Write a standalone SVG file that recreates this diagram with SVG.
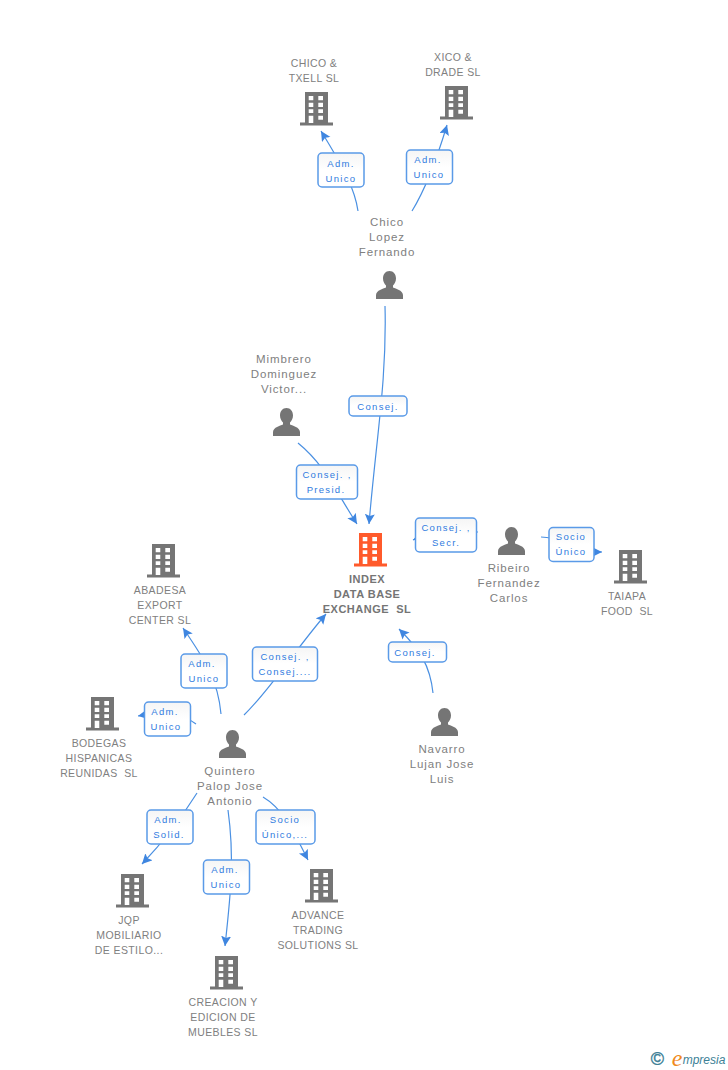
<svg xmlns="http://www.w3.org/2000/svg" width="728" height="1070" viewBox="0 0 728 1070">
<style>
text{font-family:"Liberation Sans",Arial,sans-serif;font-size:11.500px;fill:#808080;text-anchor:middle;letter-spacing:.9px;white-space:pre}
.c{font-size:10.500px;letter-spacing:.4px}
.b{font-weight:bold;font-size:11px;fill:#757575;letter-spacing:.5px}
.l{font-size:9.500px;fill:#2f7be0;letter-spacing:1.300px}
.e{fill:none;stroke:#4a90e2;stroke-width:1.200}
.box{fill:url(#g);stroke:#5a9ae8;stroke-width:1.500}
</style>
<defs>
<linearGradient id="g" x1="0" y1="0" x2="0" y2="1"><stop offset="0" stop-color="#f5f5f5"/><stop offset=".5" stop-color="#fff"/></linearGradient>
<marker id="a" markerUnits="userSpaceOnUse" markerWidth="12" markerHeight="12" refX="10" refY="5" orient="auto"><path d="M0 0L10 5L0 10L2 5Z" fill="#3f86e0"/></marker>
<symbol id="bld" width="33" height="34" viewBox="0 0 33 34"><path fill-rule="evenodd" d="M5 0H28V30.500H33V33.500H0V30.500H5ZM8.700 4V8.300H13.300V4ZM18.300 4V8.300H23V4ZM8.700 10.700V15H13.300V10.700ZM18.300 10.700V15H23V10.700ZM8.700 17.300V21H13.300V17.300ZM18.300 17.300V21H23V17.300ZM8.700 23.700V31H13.300V23.700ZM18.300 23.700V27.700H23V23.700Z"/></symbol>
<symbol id="per" width="27" height="28" viewBox="0 0 27 28"><path d="M13.500 0C17.500 0 20 3.200 20 7.500C20 10.500 18.500 13 17 14.500V16.500C20 18 26.500 19 27 24V28H0V24C.5 19 7 18 10 16.500V14.500C8.500 13 7 10.500 7 7.500C7 3.200 9.500 0 13.500 0Z" fill="#757575"/></symbol>
</defs>
<rect width="728" height="1070" fill="#fff"/>
<g id="connectors">
<path class="e" marker-end="url(#a)" d="M358 211C355 190 345 170 321 131"/>
<path class="e" marker-end="url(#a)" d="M412 211C425 190 435 165 447 125"/>
<path class="e" marker-end="url(#a)" d="M385 306C387 380 376 440 369 524"/>
<path class="e" marker-end="url(#a)" d="M298 443C325 465 335 490 357 524"/>
<path class="e" marker-end="url(#a)" d="M478 532C460 532 435 530 413 540"/>
<path class="e" marker-end="url(#a)" d="M541 537C560 537 585 552 602 552"/>
<path class="e" marker-end="url(#a)" d="M433 693C430 665 420 650 399 629"/>
<path class="e" marker-end="url(#a)" d="M244 715C270 690 295 650 326 614"/>
<path class="e" marker-end="url(#a)" d="M221 714C218 680 205 660 183 628"/>
<path class="e" marker-end="url(#a)" d="M196 724C180 712 160 712 138 716"/>
<path class="e" marker-end="url(#a)" d="M197 793C180 820 165 840 142 864"/>
<path class="e" marker-end="url(#a)" d="M228 810C235 860 230 900 225 946"/>
<path class="e" marker-end="url(#a)" d="M263 797C285 810 295 835 308 860"/>
</g>
<g id="edge-labels">
<rect class="box" x="318" y="153" width="46" height="34" rx="4"/><text class="l" x="341" y="167">Adm.</text><text class="l" x="341" y="182">Unico</text>
<rect class="box" x="406.500" y="150" width="46" height="34" rx="4"/><text class="l" x="428" y="163">Adm.</text><text class="l" x="429" y="178">Unico</text>
<rect class="box" x="349" y="396" width="58" height="20" rx="4"/><text class="l" x="378" y="410">Consej.</text>
<rect class="box" x="296.500" y="465" width="61" height="34" rx="4"/><text class="l" x="327" y="478">Consej. ,</text><text class="l" x="326" y="493">Presid.</text>
<rect class="box" x="415.500" y="518" width="61" height="34" rx="4"/><text class="l" x="446" y="531">Consej. ,</text><text class="l" x="446" y="546">Secr.</text>
<rect class="box" x="549" y="527.500" width="45" height="34" rx="4"/><text class="l" x="571" y="540">Socio</text><text class="l" x="571" y="555">Único</text>
<rect class="box" x="252.500" y="647" width="65" height="34" rx="4"/><text class="l" x="285" y="660">Consej. ,</text><text class="l" x="285" y="675">Consej....</text>
<rect class="box" x="388.500" y="642" width="58" height="20" rx="4"/><text class="l" x="415" y="656">Consej.</text>
<rect class="box" x="181" y="654" width="46" height="34" rx="4"/><text class="l" x="202" y="667">Adm.</text><text class="l" x="204" y="682">Unico</text>
<rect class="box" x="144.500" y="702" width="46" height="34" rx="4"/><text class="l" x="165" y="715">Adm.</text><text class="l" x="166" y="730">Unico</text>
<rect class="box" x="147" y="810" width="46" height="34" rx="4"/><text class="l" x="168" y="823">Adm.</text><text class="l" x="169" y="838">Solid.</text>
<rect class="box" x="203.500" y="860" width="46" height="34" rx="4"/><text class="l" x="225" y="873">Adm.</text><text class="l" x="226" y="888">Unico</text>
<rect class="box" x="256" y="810" width="59" height="34" rx="4"/><text class="l" x="285" y="823">Socio</text><text class="l" x="285" y="838">Único,...</text>
</g>
<g id="n-chico-txell"><text class="c" x="314" y="67">CHICO &amp;</text><text class="c" x="314" y="82">TXELL SL</text><use href="#bld" x="300" y="92" fill="#757575"/></g>
<g id="n-xico-drade"><text class="c" x="453" y="61">XICO &amp;</text><text class="c" x="453" y="76">DRADE SL</text><use href="#bld" x="440" y="86" fill="#757575"/></g>
<g id="n-chico-lopez"><text x="387" y="226">Chico</text><text x="387" y="241">Lopez</text><text x="387" y="256">Fernando</text><use href="#per" x="376" y="271"/></g>
<g id="n-mimbrero"><text x="284" y="363">Mimbrero</text><text x="284" y="378">Dominguez</text><text x="284" y="393">Victor...</text><use href="#per" x="273" y="408"/></g>
<g id="n-index"><use href="#bld" x="354" y="533" fill="#ff5a2b"/><text class="b" x="367" y="583">INDEX</text><text class="b" x="367" y="598">DATA BASE</text><text class="b" x="367" y="613">EXCHANGE  SL</text></g>
<g id="n-ribeiro"><use href="#per" x="498" y="527"/><text x="509" y="572">Ribeiro</text><text x="509" y="587">Fernandez</text><text x="509" y="602">Carlos</text></g>
<g id="n-taiapa"><use href="#bld" x="614" y="550" fill="#757575"/><text class="c" x="627" y="600">TAIAPA</text><text class="c" x="627" y="615">FOOD  SL</text></g>
<g id="n-abadesa"><use href="#bld" x="147" y="544" fill="#757575"/><text class="c" x="160" y="594">ABADESA</text><text class="c" x="160" y="609">EXPORT</text><text class="c" x="160" y="624">CENTER SL</text></g>
<g id="n-navarro"><use href="#per" x="431" y="708"/><text x="442" y="753">Navarro</text><text x="442" y="768">Lujan Jose</text><text x="442" y="783">Luis</text></g>
<g id="n-bodegas"><use href="#bld" x="86" y="697" fill="#757575"/><text class="c" x="99" y="747">BODEGAS</text><text class="c" x="99" y="762">HISPANICAS</text><text class="c" x="99" y="777">REUNIDAS  SL</text></g>
<g id="n-quintero"><use href="#per" x="219" y="730"/><text x="230" y="775">Quintero</text><text x="230" y="790">Palop Jose</text><text x="230" y="805">Antonio</text></g>
<g id="n-jqp"><use href="#bld" x="116" y="874" fill="#757575"/><text class="c" x="129" y="924">JQP</text><text class="c" x="129" y="939">MOBILIARIO</text><text class="c" x="129" y="954">DE ESTILO...</text></g>
<g id="n-creacion"><use href="#bld" x="210" y="956" fill="#757575"/><text class="c" x="223" y="1006">CREACION Y</text><text class="c" x="223" y="1021">EDICION DE</text><text class="c" x="223" y="1036">MUEBLES SL</text></g>
<g id="n-advance"><use href="#bld" x="305" y="869" fill="#757575"/><text class="c" x="318" y="919">ADVANCE</text><text class="c" x="318" y="934">TRADING</text><text class="c" x="318" y="949">SOLUTIONS SL</text></g>
<g id="logo"><text x="657.500" y="1065" style="font-size:18px;fill:#3d7f96;stroke:#3d7f96;stroke-width:.4;letter-spacing:0">©</text><text x="677" y="1066" style="font-family:'Liberation Serif',serif;font-style:italic;font-size:24px;fill:#f08a1d;letter-spacing:0">e</text><text x="704" y="1064" style="font-style:italic;font-size:12px;fill:#3d7f96;letter-spacing:0">mpresia</text></g>
</svg>
